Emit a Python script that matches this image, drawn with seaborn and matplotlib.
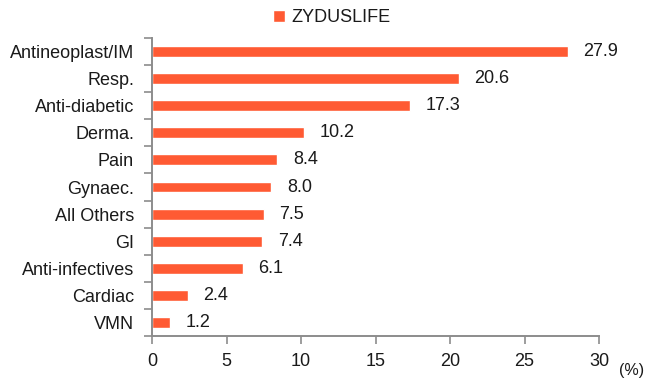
import matplotlib
matplotlib.use("Agg")
import matplotlib.pyplot as plt
import seaborn as sns
import pandas as pd

categories = ["Antineoplast/IM", "Resp.", "Anti-diabetic", "Derma.", "Pain", "Gynaec.",
              "All Others", "GI", "Anti-infectives", "Cardiac", "VMN"]
shares = [27.9, 20.6, 17.3, 10.2, 8.4, 8.0, 7.5, 7.4, 6.1, 2.4, 1.2]
series_name = "ZYDUSLIFE"
x_ticks = [0, 5, 10, 15, 20, 25, 30]

sns.set_theme(style="white")
plt.rcParams["font.family"] = ["Liberation Sans", "DejaVu Sans"]

df = pd.DataFrame({"category": categories, "share": shares, "company": series_name})

bar_color = "#FF5A33"
axis_color = "#8C8C8C"
text_color = "#1a1a1a"
fs = 13

fig = plt.figure(figsize=(6.62, 3.83), dpi=100)
ax = fig.add_axes([152 / 662, 1 - 336 / 383, (599 - 152) / 662, (336 - 38) / 383])

sns.barplot(data=df, x="share", y="category", hue="company", palette=[bar_color],
            width=0.4, ax=ax, legend=True, saturation=1)

ax.set_xlim(0, 30)
ax.set_ylim(len(categories) - 0.5, -0.5)
ax.set_xticks(x_ticks)
ax.set_xticklabels([str(t) for t in x_ticks], fontsize=fs, color=text_color)
ax.set_yticks(range(len(categories)))
ax.set_yticklabels(categories, fontsize=fs, color=text_color)
ax.set_xlabel("")
ax.set_ylabel("")

# y ticks at the category boundaries, labels at the centres
ax.tick_params(axis="y", which="major", left=True, length=0, pad=13)
ax.set_yticks([i - 0.5 for i in range(len(categories) + 1)], minor=True)
ax.tick_params(axis="y", which="minor", left=True, length=6, color=axis_color,
               width=1.2, direction="out")
ax.tick_params(axis="x", bottom=True, length=6, color=axis_color, width=1.2,
               direction="out", pad=6)

for side in ["top", "right"]:
    ax.spines[side].set_visible(False)
for side in ["left", "bottom"]:
    ax.spines[side].set_color(axis_color)
    ax.spines[side].set_linewidth(1.4)

for i, v in enumerate(shares):
    ax.text(v + 1.05, i, f"{v:.1f}", va="center", ha="left", fontsize=fs, color=text_color)

fig.text(619 / 662, 1 - 370 / 383, "(%)", fontsize=11.5, color=text_color,
         ha="left", va="center")

leg = ax.legend(loc="lower center", bbox_to_anchor=(0.402, 1.0), frameon=False,
                fontsize=fs, handlelength=0.7, handleheight=0.7, handletextpad=0.35,
                borderaxespad=0.25)
for txt in leg.get_texts():
    txt.set_color(text_color)

fig.savefig("out.png", dpi=100)
